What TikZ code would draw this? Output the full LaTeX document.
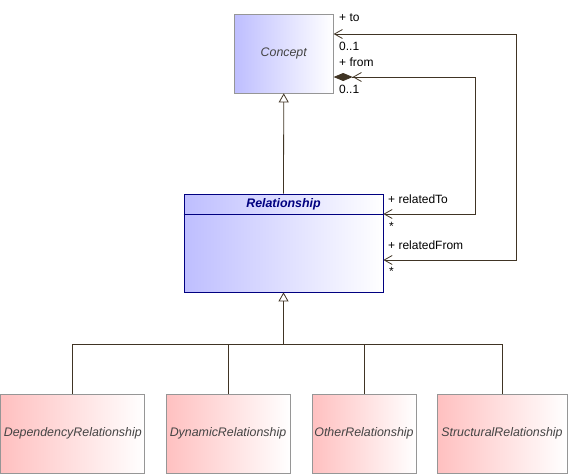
\documentclass[tikz,border=0pt]{standalone}
\usepackage{fontspec}
\setmainfont{Liberation Sans}
\usetikzlibrary{arrows.meta}
\definecolor{conn}{RGB}{64,52,36}
\definecolor{bluefill}{RGB}{190,190,255}
\definecolor{redfill}{RGB}{255,192,192}
\definecolor{boxgrey}{RGB}{150,150,150}
\definecolor{txtgrey}{RGB}{68,68,68}
\definecolor{navy}{RGB}{0,0,128}
\tikzset{
  cls/.style={draw=boxgrey, line width=0.8pt, shading=axis, shading angle=90, left color=#1, right color=white,
    font=\fontsize{12.4}{14}\selectfont\itshape, text=txtgrey, inner sep=0pt},
  lnk/.style={draw=conn, line width=0.8pt},
  gen/.style={lnk, -{Triangle[open, length=9pt, width=10pt]}},
  nav/.style={lnk, {Straight Barb[length=8pt, width=9pt]}-{Straight Barb[length=8pt, width=9pt]}},
  comp/.style={lnk, {Straight Barb[length=8pt, width=9pt]}-{Straight Barb[length=8pt, width=9pt] Diamond[length=19pt, width=8pt, fill=conn]}},
  lbl/.style={font=\fontsize{12}{14}\selectfont, anchor=west, inner sep=0pt, text=black},
}
\begin{document}
\begin{tikzpicture}[x=1pt, y=-1pt]
\useasboundingbox (0,0) rectangle (568,474);
\node[cls=bluefill, minimum width=99pt, minimum height=79pt] (concept) at (283.75,53.5) {Concept};
\node[cls=bluefill, draw=navy, minimum width=199pt, minimum height=98pt] (rel) at (283.5,243) {};
\node[font=\fontsize{12.4}{14}\selectfont\bfseries\itshape, text=navy, inner sep=0pt] (reltitle) at (283.5,204) {Relationship};
\draw[navy, line width=0.8pt] (rel.west |- 0,214) coordinate (hl) -- (rel.east |- 0,214) coordinate (hr);
\node[cls=redfill, minimum width=144pt, minimum height=79pt] (dep) at (72.75,433.5) {DependencyRelationship};
\node[cls=redfill, minimum width=124pt, minimum height=79pt] (dyn) at (228,433.5) {DynamicRelationship};
\node[cls=redfill, minimum width=104pt, minimum height=79pt] (oth) at (364,433.5) {OtherRelationship};
\node[cls=redfill, minimum width=130pt, minimum height=79pt] (str) at (502,433.5) {StructuralRelationship};
% generalizations
\draw[gen] (rel.north) -- (concept.south);
\coordinate (bus) at (283.5,344);
\draw[lnk] (dep.north) |- (bus);
\draw[lnk] (dyn.north) |- (bus);
\draw[lnk] (oth.north) |- (bus);
\draw[lnk] (str.north) |- (bus);
\draw[gen] (bus) -- (rel.south);
% associations
\coordinate (toR) at (516,34);
\coordinate (fromR) at (475,77);
\draw[nav] (rel.east |- 0,260) -| (toR) -- (concept.east |- toR);
\draw[comp] (rel.east |- 0,214) -| (fromR) -- (concept.east |- fromR);
% labels
\node[lbl] (lto) at (339,18) {+ to};
\node[lbl] (lto1) at (339,46) {0..1};
\node[lbl] (lfrom) at (339,62) {+ from};
\node[lbl] (lfrom1) at (339,89) {0..1};
\node[lbl] (lrt) at (388,199) {+ relatedTo};
\node[lbl] (lrt1) at (389,226) {*};
\node[lbl] (lrf) at (388,245) {+ relatedFrom};
\node[lbl] (lrf1) at (389,271) {*};
\end{tikzpicture}
\end{document}
